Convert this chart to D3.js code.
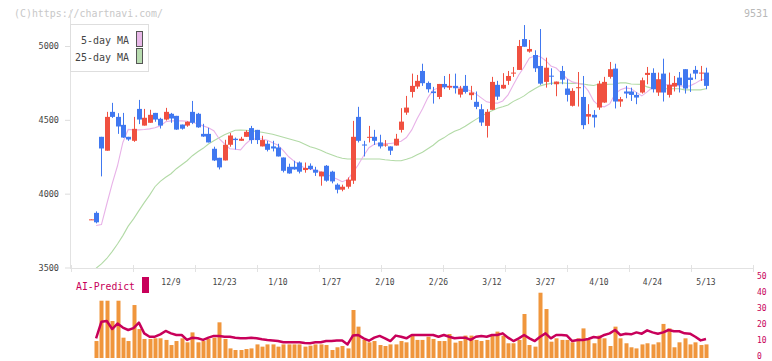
<!DOCTYPE html>
<html>
<head>
<meta charset="utf-8">
<script src="https://cdn.jsdelivr.net/npm/d3@7"></script>
<style>
  body { margin: 0; background: #fff; }
  svg { display: block; }
  text { font-family: "DejaVu Sans Mono", monospace; }
</style>
</head>
<body>
<div id="chart"></div>
<script>
// trading days shown on the chart
const dates = [
  "11/18","11/19","11/20","11/21","11/22","11/25","11/26","11/27","11/28","11/29",
  "12/2","12/3","12/4","12/5","12/6","12/9","12/10","12/11","12/12","12/13",
  "12/16","12/17","12/18","12/19","12/20","12/23","12/24","12/25","12/26","12/27",
  "12/30","1/6","1/7","1/8","1/9","1/10","1/14","1/15","1/16","1/17",
  "1/20","1/21","1/22","1/23","1/24","1/27","1/28","1/29","1/30","1/31",
  "2/3","2/4","2/5","2/6","2/7","2/10","2/12","2/13","2/14","2/17",
  "2/18","2/19","2/20","2/21","2/25","2/26","2/27","2/28","3/3","3/4",
  "3/5","3/6","3/7","3/10","3/11","3/12","3/13","3/14","3/17","3/18",
  "3/19","3/21","3/24","3/25","3/26","3/27","3/28","3/31","4/1","4/2",
  "4/3","4/4","4/7","4/8","4/9","4/10","4/11","4/14","4/15","4/16",
  "4/17","4/18","4/21","4/22","4/23","4/24","4/25","4/28","4/30","5/1",
  "5/2","5/7","5/8","5/9","5/12","5/13"
];
const dateLabels = ["12/9","12/23","1/10","1/27","2/10","2/26","3/12","3/27","4/10","4/24","5/13"];
const priceTicks = [3500, 4000, 4500, 5000];
const predictTicks = [0, 10, 20, 30, 40, 50];

const opens = [
  3822,3870,4385,4291,4554,4520,4466,4385,4358,4574,
  4461,4480,4547,4507,4502,4541,4527,4468,4461,4554,
  4541,4405,4405,4304,4243,4225,4331,4372,4358,4385,
  4444,4432,4320,4338,4320,4313,4245,4182,4182,4211,
  4160,4189,4162,4117,4189,4149,4061,4027,4047,4088,
  4520,4333,4383,4385,4347,4326,4320,4326,4432,4549,
  4689,4725,4831,4750,4692,4655,4743,4718,4730,4671,
  4730,4667,4622,4572,4459,4568,4737,4712,4764,4813,
  4838,5047,4962,4939,4865,4757,4799,4741,4831,4712,
  4595,4716,4655,4522,4534,4583,4617,4791,4847,4624,
  4692,4692,4669,4685,4804,4818,4685,4813,4669,4725,
  4786,4843,4786,4838,4813,4820
];
const highs = [
  3826,3880,4385,4554,4615,4545,4547,4385,4520,4635,
  4574,4568,4547,4514,4581,4547,4527,4468,4490,4628,
  4547,4473,4446,4318,4243,4365,4410,4380,4385,4430,
  4459,4432,4392,4358,4358,4338,4245,4203,4223,4218,
  4211,4205,4182,4149,4194,4155,4070,4061,4110,4493,
  4588,4358,4459,4432,4399,4363,4320,4405,4579,4662,
  4813,4804,4880,4760,4723,4743,4797,4811,4813,4730,
  4804,4730,4692,4606,4572,4791,4764,4816,4831,4858,
  5041,5142,5041,4971,5115,4921,4849,4759,4865,4775,
  4714,4824,4797,4606,4566,4764,4791,4892,4880,4655,
  4730,4718,4687,4786,4858,4849,4820,4914,4820,4797,
  4824,4843,4813,4865,4865,4853
];
const lows = [
  3822,3799,4117,4291,4513,4405,4378,4358,4351,4471,
  4461,4480,4487,4441,4495,4480,4432,4434,4453,4471,
  4446,4385,4347,4221,4164,4225,4318,4299,4358,4385,
  4338,4336,4320,4286,4286,4252,4144,4135,4162,4137,
  4142,4160,4120,4054,4081,4070,4002,4016,4034,4066,
  4347,4252,4347,4330,4306,4318,4262,4326,4414,4534,
  4651,4710,4730,4685,4610,4640,4708,4703,4678,4651,
  4678,4635,4572,4459,4380,4568,4635,4710,4737,4791,
  4838,4995,4955,4824,4737,4718,4737,4660,4741,4624,
  4590,4590,4437,4471,4448,4568,4615,4779,4577,4588,
  4646,4628,4606,4678,4741,4685,4662,4624,4651,4692,
  4685,4678,4689,4775,4764,4707
];
const closes = [
  3826,3806,4306,4520,4520,4455,4380,4367,4439,4502,
  4514,4534,4502,4461,4554,4509,4434,4440,4487,4480,
  4449,4387,4347,4225,4178,4331,4394,4363,4372,4419,
  4363,4363,4363,4297,4306,4252,4155,4137,4164,4149,
  4174,4167,4142,4149,4088,4083,4027,4047,4095,4385,
  4358,4326,4385,4358,4320,4333,4291,4372,4488,4583,
  4730,4764,4748,4707,4681,4743,4721,4730,4714,4712,
  4689,4685,4588,4482,4554,4757,4657,4737,4797,4820,
  5000,4995,4980,4849,4745,4853,4795,4759,4772,4669,
  4696,4721,4464,4539,4516,4745,4757,4843,4624,4640,
  4678,4669,4651,4768,4818,4707,4775,4685,4737,4750,
  4734,4712,4770,4813,4820,4730
];
const ma5 = [
  null,3784,3791,3930,4066,4189,4347,4435,4432,4432,
  4435,4439,4446,4459,4487,4493,4493,4493,4490,4482,
  4473,4459,4446,4426,4372,4338,4304,4301,4297,4338,
  4370,4370,4370,4362,4345,4328,4291,4250,4220,4196,
  4173,4166,4159,4149,4135,4115,4100,4081,4095,4142,
  4196,4257,4311,4335,4340,4340,4340,4345,4355,4380,
  4432,4507,4574,4649,4703,4716,4723,4727,4723,4718,
  4710,4696,4676,4649,4622,4615,4613,4628,4669,4737,
  4804,4858,4919,4932,4929,4902,4865,4851,4814,4780,
  4757,4747,4740,4696,4628,4595,4588,4608,4676,4703,
  4716,4710,4686,4662,4689,4720,4730,4737,4737,4737,
  4730,4727,4730,4747,4770,4774
];
const ma25 = [
  null,3495,3524,3561,3608,3659,3716,3780,3829,3885,
  3939,3990,4047,4083,4111,4135,4169,4196,4223,4257,
  4284,4307,4336,4358,4378,4399,4414,4429,4430,4429,
  4426,4421,4416,4409,4402,4392,4382,4372,4362,4351,
  4335,4318,4307,4294,4277,4264,4250,4240,4235,4235,
  4235,4235,4235,4235,4235,4230,4226,4223,4223,4233,
  4245,4264,4280,4304,4328,4358,4378,4403,4422,4436,
  4456,4480,4503,4524,4544,4561,4578,4588,4601,4625,
  4642,4662,4689,4710,4730,4740,4747,4750,4750,4748,
  4747,4747,4743,4737,4733,4743,4740,4741,4743,4750,
  4750,4743,4741,4740,4723,4713,4710,4710,4710,4710,
  4710,4703,4703,4703,4703,4710
];
const volume = [
  null,10.6,35.8,35.8,23.1,35.8,12.7,10.6,33.1,18.1,
  11.9,11.9,12.3,12.3,11.3,8.1,10.6,12.3,9.8,16.0,
  9.8,10.6,11.9,12.7,22.3,11.9,6.0,5.0,5.0,5.6,
  6.0,8.5,7.1,8.5,8.5,7.1,8.5,8.5,8.5,8.5,
  7.1,7.7,8.5,8.5,8.1,5.0,6.7,7.5,6.0,30.0,
  19.6,11.3,9.8,10.6,8.1,7.5,8.5,8.5,10.6,9.8,
  14.4,11.3,11.3,13.3,11.9,10.6,10.6,15.0,9.6,10.6,
  14.0,14.0,11.3,10.6,11.3,14.0,16.5,14.0,9.2,9.2,
  11.3,27.5,8.1,7.1,40.8,30.6,10.2,12.3,11.3,11.3,
  9.8,12.3,18.5,11.3,9.2,14.0,12.3,7.5,19.6,12.3,
  9.2,6.7,6.0,8.5,9.2,8.5,9.8,21.3,18.5,6.7,
  9.8,12.3,8.5,9.8,8.1,8.5
];
const aiPredict = [
  null,12.3,22.7,23.1,18.1,21.5,19.0,17.5,18.7,22.1,
  15.4,13.3,13.3,14.8,16.9,15.4,14.4,14.4,11.3,12.7,
  12.3,11.3,12.7,13.8,13.8,13.3,13.3,12.7,12.3,12.3,
  12.7,12.3,11.7,11.3,11.0,10.6,9.8,9.8,9.8,9.8,
  9.4,9.2,9.8,9.8,10.6,10.6,11.0,11.0,8.5,14.0,
  14.4,12.3,10.8,12.7,13.8,12.3,10.6,14.0,13.3,12.3,
  14.4,14.4,14.4,14.4,14.4,13.3,14.4,13.3,12.3,12.7,
  12.7,11.3,13.3,13.8,13.3,14.4,14.4,15.4,12.7,10.6,
  12.3,14.4,12.3,10.6,13.3,15.4,12.3,14.4,14.4,14.0,
  10.6,11.3,11.3,11.9,13.1,12.7,14.4,15.4,17.5,14.4,
  15.2,14.8,16.0,15.2,17.3,16.0,15.2,16.0,17.5,16.7,
  16.7,15.4,15.2,13.3,11.0,11.9
];

const upColor = "#f05040";
const downColor = "#4078f0";
const crimson = "#c8005a";

const svg = d3.select("#chart").append("svg")
  .attr("width", 772)
  .attr("height", 361);

const x = d3.scaleLinear().domain([0, dates.length - 1]).range([90.75, 706]);
const y = d3.scaleLinear().domain([3500, 5000]).range([267.5, 46]);
const yp = d3.scaleLinear().domain([0, 50]).range([358, 278]);
const frame = d3.scaleLinear().domain([0, 11]).range([71, 753]);

svg.append("clipPath").attr("id", "plotClip")
  .append("rect").attr("x", 70).attr("y", 0).attr("width", 684).attr("height", 268);

// watermark and code
svg.append("text").attr("x", 14).attr("y", 13)
  .attr("dominant-baseline", "central")
  .attr("font-size", 10).attr("fill", "#c8c8c8")
  .attr("textLength", 149).attr("lengthAdjust", "spacingAndGlyphs")
  .text("(C)https://chartnavi.com/");
svg.append("text").attr("x", 768).attr("y", 13)
  .attr("dominant-baseline", "central").attr("text-anchor", "end")
  .attr("font-size", 10).attr("fill", "#b8b8b8")
  .text("9531");

// left axis
const yAxis = svg.append("g")
  .attr("transform", "translate(70,0)")
  .call(d3.axisLeft(y).tickValues(priceTicks).tickSize(5).tickPadding(6).tickFormat(d3.format("d")));
yAxis.select(".domain").remove();
yAxis.selectAll(".tick line").attr("stroke", "#dddddd");
yAxis.selectAll(".tick text")
  .attr("font-family", "DejaVu Sans Mono, monospace")
  .attr("font-size", 8.5).attr("fill", "#444");
svg.append("line")
  .attr("x1", 70.5).attr("x2", 70.5).attr("y1", 10).attr("y2", 268)
  .attr("stroke", "#e2e2e2");

// bottom axis line with frame ticks
const xAxis = svg.append("g")
  .attr("transform", "translate(0,268)")
  .call(d3.axisBottom(frame).tickValues(d3.range(12)).tickSize(4).tickFormat(""));
xAxis.select(".domain").attr("stroke", "#e2e2e2").attr("d", "M70,0.5H753");
xAxis.selectAll(".tick line").attr("stroke", "#e2e2e2").attr("y1", -3);

// date labels
svg.append("g").selectAll("text")
  .data(dateLabels)
  .join("text")
  .attr("x", d => x(dates.indexOf(d)))
  .attr("y", 282)
  .attr("text-anchor", "middle")
  .attr("dominant-baseline", "central")
  .attr("font-size", 8)
  .attr("fill", "#444")
  .text(d => d);

// moving averages
const plot = svg.append("g").attr("clip-path", "url(#plotClip)");
const maLine = arr => d3.line()
  .defined(i => arr[i] != null)
  .x(i => x(i))
  .y(i => y(arr[i]))(d3.range(arr.length));
plot.append("path").attr("d", maLine(ma25))
  .attr("fill", "none").attr("stroke", "#b2daa6").attr("stroke-width", 1.1);
plot.append("path").attr("d", maLine(ma5))
  .attr("fill", "none").attr("stroke", "#e8b2e8").attr("stroke-width", 1.1);

// candles
const candles = plot.append("g").selectAll("g")
  .data(d3.range(dates.length))
  .join("g")
  .attr("fill", i => closes[i] >= opens[i] ? upColor : downColor)
  .attr("stroke", i => closes[i] >= opens[i] ? upColor : downColor);
candles.append("line")
  .attr("x1", i => Math.round(x(i)) + 0.5)
  .attr("x2", i => Math.round(x(i)) + 0.5)
  .attr("y1", i => y(highs[i]))
  .attr("y2", i => y(lows[i]))
  .attr("stroke-width", 1);
candles.append("rect")
  .attr("stroke", "none")
  .attr("x", i => Math.round(x(i)) - 2)
  .attr("width", 5)
  .attr("y", i => y(Math.max(opens[i], closes[i])))
  .attr("height", i => Math.max(1, y(Math.min(opens[i], closes[i])) - y(Math.max(opens[i], closes[i]))));

// legend
const legend = svg.append("g");
legend.append("rect").attr("x", 70.5).attr("y", 24.5).attr("width", 78).attr("height", 47)
  .attr("fill", "#fff").attr("stroke", "#dedede");
[["5-day MA", "#e8b8e8", 40], ["25-day MA", "#b8dcb0", 57]].forEach(([label, color, cy]) => {
  legend.append("text").attr("x", 129).attr("y", cy)
    .attr("text-anchor", "end").attr("dominant-baseline", "central")
    .attr("font-size", 10.5).attr("fill", "#444")
    .attr("textLength", label.length * 6).attr("lengthAdjust", "spacingAndGlyphs")
    .text(label);
  legend.append("rect").attr("x", 136.5).attr("y", cy - 8.5).attr("width", 6).attr("height", 15)
    .attr("fill", color).attr("stroke", "#555");
});

// AI-Predict panel
svg.append("text").attr("x", 76).attr("y", 286)
  .attr("dominant-baseline", "central")
  .attr("font-size", 11).attr("fill", crimson)
  .attr("textLength", 59).attr("lengthAdjust", "spacingAndGlyphs")
  .text("AI-Predict");
svg.append("rect").attr("x", 142).attr("y", 277).attr("width", 7).attr("height", 16)
  .attr("fill", crimson);

svg.append("g").selectAll("rect")
  .data(d3.range(dates.length).filter(i => volume[i] != null))
  .join("rect")
  .attr("x", i => Math.round(x(i)) - 1.5)
  .attr("width", 4)
  .attr("y", i => yp(volume[i]))
  .attr("height", i => yp(0) - yp(volume[i]))
  .attr("fill", "#f0963c");

svg.append("path")
  .attr("d", d3.line()
    .defined(i => aiPredict[i] != null)
    .x(i => x(i))
    .y(i => yp(aiPredict[i]))(d3.range(dates.length)))
  .attr("fill", "none").attr("stroke", crimson).attr("stroke-width", 2.5)
  .attr("stroke-linejoin", "round");

svg.append("g").selectAll("text")
  .data(predictTicks)
  .join("text")
  .attr("x", 757)
  .attr("y", d => yp(d) - 2)
  .attr("dominant-baseline", "central")
  .attr("font-size", 8)
  .attr("fill", crimson)
  .text(d => d);
</script>
</body>
</html>
